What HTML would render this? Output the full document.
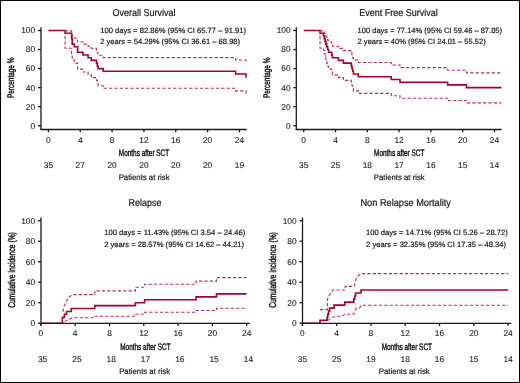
<!DOCTYPE html>
<html><head><meta charset="utf-8"><style>
html,body{margin:0;padding:0;background:#fff;}
body{width:520px;height:383px;overflow:hidden;position:relative;}
svg{position:absolute;left:0;top:0;will-change:transform;}
text{text-rendering:geometricPrecision;font-family:"Liberation Sans",sans-serif;}
</style></head><body>
<svg width="520" height="383" viewBox="0 0 520 383">
<rect x="0.5" y="0.5" width="519" height="382" fill="#fff" stroke="#000" stroke-width="1"/>
<path d="M48.40,30.50H65.10V33.22H71.60V38.66H72.20V44.10H74.30V46.82H77.60V52.26H83.00V54.98H88.10V57.70H91.30V60.42H96.50V63.14H97.30V65.86H98.10V68.58H103.20V71.30H235.60V74.02H246.10V77.34H246.20" fill="none" stroke="#a6002c" stroke-width="1.6"/>
<path d="M65.10,30.50V48.21H71.60V53.60H72.20V59.99H74.30V63.09H77.60V69.10H83.00V72.01H88.10V74.85H91.30V77.65H96.50V80.39H97.30V83.08H98.10V85.71H103.20V88.30H235.60V90.85H246.10V93.52H246.20" fill="none" stroke="#b8304f" stroke-width="1.1" stroke-dasharray="3.3 2.05"/>
<path d="M65.10,30.50V30.89H71.60V33.21H72.20V36.41H74.30V38.20H77.60V42.07H83.00V44.11H88.10V46.22H91.30V48.39H96.50V50.62H97.30V52.90H98.10V55.23H103.20V57.61H235.60V60.03H246.10V62.30H246.20" fill="none" stroke="#b8304f" stroke-width="1.1" stroke-dasharray="3.3 2.05"/>
<line x1="41.0" y1="27.2" x2="41.0" y2="130.1" stroke="#1a1a1a" stroke-width="1.3"/>
<line x1="40.4" y1="129.5" x2="246.7" y2="129.5" stroke="#1a1a1a" stroke-width="1.3"/>
<line x1="38.0" y1="125.7" x2="41.0" y2="125.7" stroke="#1a1a1a" stroke-width="1.3"/>
<text x="35.2" y="128.6" font-size="8.4" text-anchor="end" fill="#1a1a1a" stroke="#1a1a1a" stroke-width="0.1">0</text>
<line x1="38.0" y1="106.66" x2="41.0" y2="106.66" stroke="#1a1a1a" stroke-width="1.3"/>
<text x="35.2" y="109.56" font-size="8.4" text-anchor="end" fill="#1a1a1a" stroke="#1a1a1a" stroke-width="0.1">20</text>
<line x1="38.0" y1="87.62" x2="41.0" y2="87.62" stroke="#1a1a1a" stroke-width="1.3"/>
<text x="35.2" y="90.52000000000001" font-size="8.4" text-anchor="end" fill="#1a1a1a" stroke="#1a1a1a" stroke-width="0.1">40</text>
<line x1="38.0" y1="68.58000000000001" x2="41.0" y2="68.58000000000001" stroke="#1a1a1a" stroke-width="1.3"/>
<text x="35.2" y="71.48000000000002" font-size="8.4" text-anchor="end" fill="#1a1a1a" stroke="#1a1a1a" stroke-width="0.1">60</text>
<line x1="38.0" y1="49.540000000000006" x2="41.0" y2="49.540000000000006" stroke="#1a1a1a" stroke-width="1.3"/>
<text x="35.2" y="52.440000000000005" font-size="8.4" text-anchor="end" fill="#1a1a1a" stroke="#1a1a1a" stroke-width="0.1">80</text>
<line x1="38.0" y1="30.500000000000014" x2="41.0" y2="30.500000000000014" stroke="#1a1a1a" stroke-width="1.3"/>
<text x="35.2" y="33.40000000000001" font-size="8.4" text-anchor="end" fill="#1a1a1a" stroke="#1a1a1a" stroke-width="0.1">100</text>
<line x1="48.4" y1="129.5" x2="48.4" y2="132.3" stroke="#1a1a1a" stroke-width="1.3"/>
<text x="48.4" y="142.8" font-size="8.4" text-anchor="middle" fill="#1a1a1a" stroke="#1a1a1a" stroke-width="0.1">0</text>
<text x="48.4" y="167.8" font-size="8.4" text-anchor="middle" fill="#1a1a1a" stroke="#1a1a1a" stroke-width="0.1">35</text>
<line x1="80.24" y1="129.5" x2="80.24" y2="132.3" stroke="#1a1a1a" stroke-width="1.3"/>
<text x="80.24" y="142.8" font-size="8.4" text-anchor="middle" fill="#1a1a1a" stroke="#1a1a1a" stroke-width="0.1">4</text>
<text x="80.24" y="167.8" font-size="8.4" text-anchor="middle" fill="#1a1a1a" stroke="#1a1a1a" stroke-width="0.1">27</text>
<line x1="112.08" y1="129.5" x2="112.08" y2="132.3" stroke="#1a1a1a" stroke-width="1.3"/>
<text x="112.08" y="142.8" font-size="8.4" text-anchor="middle" fill="#1a1a1a" stroke="#1a1a1a" stroke-width="0.1">8</text>
<text x="112.08" y="167.8" font-size="8.4" text-anchor="middle" fill="#1a1a1a" stroke="#1a1a1a" stroke-width="0.1">20</text>
<line x1="143.92" y1="129.5" x2="143.92" y2="132.3" stroke="#1a1a1a" stroke-width="1.3"/>
<text x="143.92" y="142.8" font-size="8.4" text-anchor="middle" fill="#1a1a1a" stroke="#1a1a1a" stroke-width="0.1">12</text>
<text x="143.92" y="167.8" font-size="8.4" text-anchor="middle" fill="#1a1a1a" stroke="#1a1a1a" stroke-width="0.1">20</text>
<line x1="175.76" y1="129.5" x2="175.76" y2="132.3" stroke="#1a1a1a" stroke-width="1.3"/>
<text x="175.76" y="142.8" font-size="8.4" text-anchor="middle" fill="#1a1a1a" stroke="#1a1a1a" stroke-width="0.1">16</text>
<text x="175.76" y="167.8" font-size="8.4" text-anchor="middle" fill="#1a1a1a" stroke="#1a1a1a" stroke-width="0.1">20</text>
<line x1="207.6" y1="129.5" x2="207.6" y2="132.3" stroke="#1a1a1a" stroke-width="1.3"/>
<text x="207.6" y="142.8" font-size="8.4" text-anchor="middle" fill="#1a1a1a" stroke="#1a1a1a" stroke-width="0.1">20</text>
<text x="207.6" y="167.8" font-size="8.4" text-anchor="middle" fill="#1a1a1a" stroke="#1a1a1a" stroke-width="0.1">20</text>
<line x1="239.44" y1="129.5" x2="239.44" y2="132.3" stroke="#1a1a1a" stroke-width="1.3"/>
<text x="239.44" y="142.8" font-size="8.4" text-anchor="middle" fill="#1a1a1a" stroke="#1a1a1a" stroke-width="0.1">24</text>
<text x="239.44" y="167.8" font-size="8.4" text-anchor="middle" fill="#1a1a1a" stroke="#1a1a1a" stroke-width="0.1">19</text>
<text transform="translate(144.0,15.5) scale(0.9,1)" font-size="10.0" text-anchor="middle" fill="#1a1a1a" stroke="#1a1a1a" stroke-width="0.2">Overall Survival</text>
<text x="100.2" y="33.2" font-size="7.6" text-anchor="start" fill="#1a1a1a" stroke="#1a1a1a" stroke-width="0.2">100 days = 82.86% (95% CI 65.77 – 91.91)</text>
<text x="100.2" y="44.4" font-size="7.6" text-anchor="start" fill="#1a1a1a" stroke="#1a1a1a" stroke-width="0.2">2 years = 54.29% (95% CI 36.61 – 68.98)</text>
<text transform="translate(144.0,155.9) scale(0.685,1)" font-size="9.4" text-anchor="middle" fill="#111" stroke="#111" stroke-width="0.4">Months after SCT</text>
<text transform="translate(144.1,180.3) scale(0.97,1)" font-size="8" text-anchor="middle" fill="#1a1a1a" stroke="#1a1a1a" stroke-width="0.2">Patients at risk</text>
<text transform="translate(14.2,77.8) rotate(-90) scale(0.672,1)" font-size="9.6" text-anchor="middle" fill="#111" stroke="#111" stroke-width="0.4">Percentage %</text>
<path d="M303.70,30.50H320.00V33.22H323.50V35.94H324.30V38.66H325.10V41.38H325.90V44.10H326.70V46.82H327.60V49.54H328.60V52.26H331.70V54.98H332.40V57.70H338.40V60.42H343.40V63.14H351.30V65.86H352.00V68.58H352.70V71.30H353.40V74.02H358.30V76.74H391.30V79.46H400.00V82.18H447.60V84.90H466.40V87.62H501.40" fill="none" stroke="#a6002c" stroke-width="1.6"/>
<path d="M320.00,30.50V48.21H323.50V50.46H324.30V53.60H325.10V56.82H325.90V59.99H326.70V63.09H327.60V66.13H328.60V69.10H331.70V72.01H332.40V74.85H338.40V77.65H343.40V80.39H351.30V83.08H352.00V85.71H352.70V88.30H353.40V90.85H358.30V93.34H391.30V95.79H400.00V98.19H447.60V100.54H466.40V102.84H501.40" fill="none" stroke="#b8304f" stroke-width="1.1" stroke-dasharray="3.3 2.05"/>
<path d="M320.00,30.50V30.89H323.50V31.89H324.30V33.21H325.10V34.74H325.90V36.41H326.70V38.20H327.60V40.09H328.60V42.07H331.70V44.11H332.40V46.22H338.40V48.39H343.40V50.62H351.30V52.90H352.00V55.23H352.70V57.61H353.40V60.03H358.30V62.51H391.30V65.02H400.00V67.58H447.60V70.19H466.40V72.85H501.40" fill="none" stroke="#b8304f" stroke-width="1.1" stroke-dasharray="3.3 2.05"/>
<line x1="296.3" y1="27.2" x2="296.3" y2="130.1" stroke="#1a1a1a" stroke-width="1.3"/>
<line x1="295.7" y1="129.5" x2="501.7" y2="129.5" stroke="#1a1a1a" stroke-width="1.3"/>
<line x1="293.3" y1="125.7" x2="296.3" y2="125.7" stroke="#1a1a1a" stroke-width="1.3"/>
<text x="290.7" y="128.6" font-size="8.4" text-anchor="end" fill="#1a1a1a" stroke="#1a1a1a" stroke-width="0.1">0</text>
<line x1="293.3" y1="106.66" x2="296.3" y2="106.66" stroke="#1a1a1a" stroke-width="1.3"/>
<text x="290.7" y="109.56" font-size="8.4" text-anchor="end" fill="#1a1a1a" stroke="#1a1a1a" stroke-width="0.1">20</text>
<line x1="293.3" y1="87.62" x2="296.3" y2="87.62" stroke="#1a1a1a" stroke-width="1.3"/>
<text x="290.7" y="90.52000000000001" font-size="8.4" text-anchor="end" fill="#1a1a1a" stroke="#1a1a1a" stroke-width="0.1">40</text>
<line x1="293.3" y1="68.58000000000001" x2="296.3" y2="68.58000000000001" stroke="#1a1a1a" stroke-width="1.3"/>
<text x="290.7" y="71.48000000000002" font-size="8.4" text-anchor="end" fill="#1a1a1a" stroke="#1a1a1a" stroke-width="0.1">60</text>
<line x1="293.3" y1="49.540000000000006" x2="296.3" y2="49.540000000000006" stroke="#1a1a1a" stroke-width="1.3"/>
<text x="290.7" y="52.440000000000005" font-size="8.4" text-anchor="end" fill="#1a1a1a" stroke="#1a1a1a" stroke-width="0.1">80</text>
<line x1="293.3" y1="30.500000000000014" x2="296.3" y2="30.500000000000014" stroke="#1a1a1a" stroke-width="1.3"/>
<text x="290.7" y="33.40000000000001" font-size="8.4" text-anchor="end" fill="#1a1a1a" stroke="#1a1a1a" stroke-width="0.1">100</text>
<line x1="303.7" y1="129.5" x2="303.7" y2="132.3" stroke="#1a1a1a" stroke-width="1.3"/>
<text x="303.7" y="142.8" font-size="8.4" text-anchor="middle" fill="#1a1a1a" stroke="#1a1a1a" stroke-width="0.1">0</text>
<text x="303.7" y="167.8" font-size="8.4" text-anchor="middle" fill="#1a1a1a" stroke="#1a1a1a" stroke-width="0.1">35</text>
<line x1="335.5" y1="129.5" x2="335.5" y2="132.3" stroke="#1a1a1a" stroke-width="1.3"/>
<text x="335.5" y="142.8" font-size="8.4" text-anchor="middle" fill="#1a1a1a" stroke="#1a1a1a" stroke-width="0.1">4</text>
<text x="335.5" y="167.8" font-size="8.4" text-anchor="middle" fill="#1a1a1a" stroke="#1a1a1a" stroke-width="0.1">25</text>
<line x1="367.3" y1="129.5" x2="367.3" y2="132.3" stroke="#1a1a1a" stroke-width="1.3"/>
<text x="367.3" y="142.8" font-size="8.4" text-anchor="middle" fill="#1a1a1a" stroke="#1a1a1a" stroke-width="0.1">8</text>
<text x="367.3" y="167.8" font-size="8.4" text-anchor="middle" fill="#1a1a1a" stroke="#1a1a1a" stroke-width="0.1">18</text>
<line x1="399.1" y1="129.5" x2="399.1" y2="132.3" stroke="#1a1a1a" stroke-width="1.3"/>
<text x="399.1" y="142.8" font-size="8.4" text-anchor="middle" fill="#1a1a1a" stroke="#1a1a1a" stroke-width="0.1">12</text>
<text x="399.1" y="167.8" font-size="8.4" text-anchor="middle" fill="#1a1a1a" stroke="#1a1a1a" stroke-width="0.1">17</text>
<line x1="430.9" y1="129.5" x2="430.9" y2="132.3" stroke="#1a1a1a" stroke-width="1.3"/>
<text x="430.9" y="142.8" font-size="8.4" text-anchor="middle" fill="#1a1a1a" stroke="#1a1a1a" stroke-width="0.1">16</text>
<text x="430.9" y="167.8" font-size="8.4" text-anchor="middle" fill="#1a1a1a" stroke="#1a1a1a" stroke-width="0.1">16</text>
<line x1="462.7" y1="129.5" x2="462.7" y2="132.3" stroke="#1a1a1a" stroke-width="1.3"/>
<text x="462.7" y="142.8" font-size="8.4" text-anchor="middle" fill="#1a1a1a" stroke="#1a1a1a" stroke-width="0.1">20</text>
<text x="462.7" y="167.8" font-size="8.4" text-anchor="middle" fill="#1a1a1a" stroke="#1a1a1a" stroke-width="0.1">15</text>
<line x1="494.5" y1="129.5" x2="494.5" y2="132.3" stroke="#1a1a1a" stroke-width="1.3"/>
<text x="494.5" y="142.8" font-size="8.4" text-anchor="middle" fill="#1a1a1a" stroke="#1a1a1a" stroke-width="0.1">24</text>
<text x="494.5" y="167.8" font-size="8.4" text-anchor="middle" fill="#1a1a1a" stroke="#1a1a1a" stroke-width="0.1">14</text>
<text transform="translate(398.6,15.5) scale(0.9,1)" font-size="10.0" text-anchor="middle" fill="#1a1a1a" stroke="#1a1a1a" stroke-width="0.2">Event Free Survival</text>
<text transform="translate(357.6,33.2) scale(0.99,1)" font-size="7.6" text-anchor="start" fill="#1a1a1a" stroke="#1a1a1a" stroke-width="0.2">100 days = 77.14% (95% CI 59.46 – 87.85)</text>
<text transform="translate(357.6,44.4) scale(0.99,1)" font-size="7.6" text-anchor="start" fill="#1a1a1a" stroke="#1a1a1a" stroke-width="0.2">2 years = 40% (95% CI 24.01 – 55.52)</text>
<text transform="translate(399.2,155.9) scale(0.685,1)" font-size="9.4" text-anchor="middle" fill="#111" stroke="#111" stroke-width="0.4">Months after SCT</text>
<text transform="translate(399.3,180.3) scale(0.97,1)" font-size="8" text-anchor="middle" fill="#1a1a1a" stroke="#1a1a1a" stroke-width="0.2">Patients at risk</text>
<text transform="translate(270.2,77.8) rotate(-90) scale(0.672,1)" font-size="9.6" text-anchor="middle" fill="#111" stroke="#111" stroke-width="0.4">Percentage %</text>
<path d="M40.90,323.20H62.40V317.35H64.40V314.42H66.50V311.48H71.20V308.55H94.80V305.63H135.40V302.70H144.60V299.77H196.10V296.85H216.50V293.92H246.50" fill="none" stroke="#a6002c" stroke-width="1.6"/>
<path d="M64.6,321.6L66.5,320.4L69.1,319.2L71.4,318.3L73.6,317.8H94.8V316.3H135.4V314.3H144.6V312.3H196.1V310.5H216.5V308.2H246.5" fill="none" stroke="#b8304f" stroke-width="1.1" stroke-dasharray="3.3 2.05"/>
<path d="M62.8,311.8L64.4,305.5L66.2,301.5L67.8,298.3L71.2,295.4L72.2,294.6H94.8V290.9H135.4V287.2H144.6V284.2H196.1V281.1H216.5V277.6H246.5" fill="none" stroke="#b8304f" stroke-width="1.1" stroke-dasharray="3.3 2.05"/>
<line x1="41.0" y1="217.5" x2="41.0" y2="325.6" stroke="#1a1a1a" stroke-width="1.3"/>
<line x1="40.4" y1="323.3" x2="249.8" y2="323.3" stroke="#1a1a1a" stroke-width="1.3"/>
<line x1="38.0" y1="323.2" x2="41.0" y2="323.2" stroke="#1a1a1a" stroke-width="1.3"/>
<text x="35.2" y="326.09999999999997" font-size="8.4" text-anchor="end" fill="#1a1a1a" stroke="#1a1a1a" stroke-width="0.1">0</text>
<line x1="38.0" y1="302.7" x2="41.0" y2="302.7" stroke="#1a1a1a" stroke-width="1.3"/>
<text x="35.2" y="305.59999999999997" font-size="8.4" text-anchor="end" fill="#1a1a1a" stroke="#1a1a1a" stroke-width="0.1">20</text>
<line x1="38.0" y1="282.2" x2="41.0" y2="282.2" stroke="#1a1a1a" stroke-width="1.3"/>
<text x="35.2" y="285.09999999999997" font-size="8.4" text-anchor="end" fill="#1a1a1a" stroke="#1a1a1a" stroke-width="0.1">40</text>
<line x1="38.0" y1="261.7" x2="41.0" y2="261.7" stroke="#1a1a1a" stroke-width="1.3"/>
<text x="35.2" y="264.59999999999997" font-size="8.4" text-anchor="end" fill="#1a1a1a" stroke="#1a1a1a" stroke-width="0.1">60</text>
<line x1="38.0" y1="241.2" x2="41.0" y2="241.2" stroke="#1a1a1a" stroke-width="1.3"/>
<text x="35.2" y="244.1" font-size="8.4" text-anchor="end" fill="#1a1a1a" stroke="#1a1a1a" stroke-width="0.1">80</text>
<line x1="38.0" y1="220.7" x2="41.0" y2="220.7" stroke="#1a1a1a" stroke-width="1.3"/>
<text x="35.2" y="223.6" font-size="8.4" text-anchor="end" fill="#1a1a1a" stroke="#1a1a1a" stroke-width="0.1">100</text>
<line x1="40.9" y1="323.3" x2="40.9" y2="326.1" stroke="#1a1a1a" stroke-width="1.3"/>
<text x="40.9" y="336.4" font-size="8.4" text-anchor="middle" fill="#1a1a1a" stroke="#1a1a1a" stroke-width="0.1">0</text>
<text x="42.6" y="362.2" font-size="8.4" text-anchor="middle" fill="#1a1a1a" stroke="#1a1a1a" stroke-width="0.1">35</text>
<line x1="75.19999999999999" y1="323.3" x2="75.19999999999999" y2="326.1" stroke="#1a1a1a" stroke-width="1.3"/>
<text x="75.19999999999999" y="336.4" font-size="8.4" text-anchor="middle" fill="#1a1a1a" stroke="#1a1a1a" stroke-width="0.1">4</text>
<text x="76.89999999999999" y="362.2" font-size="8.4" text-anchor="middle" fill="#1a1a1a" stroke="#1a1a1a" stroke-width="0.1">25</text>
<line x1="109.5" y1="323.3" x2="109.5" y2="326.1" stroke="#1a1a1a" stroke-width="1.3"/>
<text x="109.5" y="336.4" font-size="8.4" text-anchor="middle" fill="#1a1a1a" stroke="#1a1a1a" stroke-width="0.1">8</text>
<text x="111.2" y="362.2" font-size="8.4" text-anchor="middle" fill="#1a1a1a" stroke="#1a1a1a" stroke-width="0.1">18</text>
<line x1="143.79999999999998" y1="323.3" x2="143.79999999999998" y2="326.1" stroke="#1a1a1a" stroke-width="1.3"/>
<text x="143.79999999999998" y="336.4" font-size="8.4" text-anchor="middle" fill="#1a1a1a" stroke="#1a1a1a" stroke-width="0.1">12</text>
<text x="145.49999999999997" y="362.2" font-size="8.4" text-anchor="middle" fill="#1a1a1a" stroke="#1a1a1a" stroke-width="0.1">17</text>
<line x1="178.1" y1="323.3" x2="178.1" y2="326.1" stroke="#1a1a1a" stroke-width="1.3"/>
<text x="178.1" y="336.4" font-size="8.4" text-anchor="middle" fill="#1a1a1a" stroke="#1a1a1a" stroke-width="0.1">16</text>
<text x="179.79999999999998" y="362.2" font-size="8.4" text-anchor="middle" fill="#1a1a1a" stroke="#1a1a1a" stroke-width="0.1">16</text>
<line x1="212.4" y1="323.3" x2="212.4" y2="326.1" stroke="#1a1a1a" stroke-width="1.3"/>
<text x="212.4" y="336.4" font-size="8.4" text-anchor="middle" fill="#1a1a1a" stroke="#1a1a1a" stroke-width="0.1">20</text>
<text x="214.1" y="362.2" font-size="8.4" text-anchor="middle" fill="#1a1a1a" stroke="#1a1a1a" stroke-width="0.1">15</text>
<line x1="246.7" y1="323.3" x2="246.7" y2="326.1" stroke="#1a1a1a" stroke-width="1.3"/>
<text x="246.7" y="336.4" font-size="8.4" text-anchor="middle" fill="#1a1a1a" stroke="#1a1a1a" stroke-width="0.1">24</text>
<text x="248.39999999999998" y="362.2" font-size="8.4" text-anchor="middle" fill="#1a1a1a" stroke="#1a1a1a" stroke-width="0.1">14</text>
<text transform="translate(145.0,206.0) scale(0.9,1)" font-size="10.0" text-anchor="middle" fill="#1a1a1a" stroke="#1a1a1a" stroke-width="0.2">Relapse</text>
<text x="104.2" y="235.3" font-size="7.6" text-anchor="start" fill="#1a1a1a" stroke="#1a1a1a" stroke-width="0.2">100 days = 11.43% (95% CI 3.54 – 24.46)</text>
<text x="104.2" y="246.5" font-size="7.6" text-anchor="start" fill="#1a1a1a" stroke="#1a1a1a" stroke-width="0.2">2 years = 28.57% (95% CI 14.62 – 44.21)</text>
<text transform="translate(145.4,349.7) scale(0.685,1)" font-size="9.4" text-anchor="middle" fill="#111" stroke="#111" stroke-width="0.4">Months after SCT</text>
<text transform="translate(144.6,373.9) scale(0.97,1)" font-size="8" text-anchor="middle" fill="#1a1a1a" stroke="#1a1a1a" stroke-width="0.2">Patients at risk</text>
<text transform="translate(14.5,270.0) rotate(-90) scale(0.68,1)" font-size="9.8" text-anchor="middle" fill="#111" stroke="#111" stroke-width="0.4">Cumulative incidence (%)</text>
<path d="M302.40,323.20H320.00V320.19H327.20V317.17H327.80V314.16H328.60V311.15H329.60V308.12H334.10V305.11H344.80V302.10H353.80V299.08H354.70V296.07H355.60V293.05H361.00V290.04H508.10" fill="none" stroke="#a6002c" stroke-width="1.6"/>
<path d="M327.6,320.6L332.2,317.8L335.5,316.2H342.4L344.6,314.2H353.9L355.6,309L357,308H359.6L361.2,305.3H508.1" fill="none" stroke="#b8304f" stroke-width="1.1" stroke-dasharray="3.3 2.05"/>
<path d="M320,309.6H327.4V300L328.4,296.3L331,293L333,290H345.2V286.4H354.2L355.2,283L356,279L357.5,276.4L361,273.6H508.1" fill="none" stroke="#b8304f" stroke-width="1.1" stroke-dasharray="3.3 2.05"/>
<line x1="302.5" y1="217.5" x2="302.5" y2="325.6" stroke="#1a1a1a" stroke-width="1.3"/>
<line x1="301.9" y1="323.3" x2="511.3" y2="323.3" stroke="#1a1a1a" stroke-width="1.3"/>
<line x1="299.5" y1="323.2" x2="302.5" y2="323.2" stroke="#1a1a1a" stroke-width="1.3"/>
<text x="296.7" y="326.09999999999997" font-size="8.4" text-anchor="end" fill="#1a1a1a" stroke="#1a1a1a" stroke-width="0.1">0</text>
<line x1="299.5" y1="302.7" x2="302.5" y2="302.7" stroke="#1a1a1a" stroke-width="1.3"/>
<text x="296.7" y="305.59999999999997" font-size="8.4" text-anchor="end" fill="#1a1a1a" stroke="#1a1a1a" stroke-width="0.1">20</text>
<line x1="299.5" y1="282.2" x2="302.5" y2="282.2" stroke="#1a1a1a" stroke-width="1.3"/>
<text x="296.7" y="285.09999999999997" font-size="8.4" text-anchor="end" fill="#1a1a1a" stroke="#1a1a1a" stroke-width="0.1">40</text>
<line x1="299.5" y1="261.7" x2="302.5" y2="261.7" stroke="#1a1a1a" stroke-width="1.3"/>
<text x="296.7" y="264.59999999999997" font-size="8.4" text-anchor="end" fill="#1a1a1a" stroke="#1a1a1a" stroke-width="0.1">60</text>
<line x1="299.5" y1="241.2" x2="302.5" y2="241.2" stroke="#1a1a1a" stroke-width="1.3"/>
<text x="296.7" y="244.1" font-size="8.4" text-anchor="end" fill="#1a1a1a" stroke="#1a1a1a" stroke-width="0.1">80</text>
<line x1="299.5" y1="220.7" x2="302.5" y2="220.7" stroke="#1a1a1a" stroke-width="1.3"/>
<text x="296.7" y="223.6" font-size="8.4" text-anchor="end" fill="#1a1a1a" stroke="#1a1a1a" stroke-width="0.1">100</text>
<line x1="302.4" y1="323.3" x2="302.4" y2="326.1" stroke="#1a1a1a" stroke-width="1.3"/>
<text x="302.4" y="336.4" font-size="8.4" text-anchor="middle" fill="#1a1a1a" stroke="#1a1a1a" stroke-width="0.1">0</text>
<text x="302.4" y="362.2" font-size="8.4" text-anchor="middle" fill="#1a1a1a" stroke="#1a1a1a" stroke-width="0.1">35</text>
<line x1="336.67999999999995" y1="323.3" x2="336.67999999999995" y2="326.1" stroke="#1a1a1a" stroke-width="1.3"/>
<text x="336.67999999999995" y="336.4" font-size="8.4" text-anchor="middle" fill="#1a1a1a" stroke="#1a1a1a" stroke-width="0.1">4</text>
<text x="336.67999999999995" y="362.2" font-size="8.4" text-anchor="middle" fill="#1a1a1a" stroke="#1a1a1a" stroke-width="0.1">25</text>
<line x1="370.96" y1="323.3" x2="370.96" y2="326.1" stroke="#1a1a1a" stroke-width="1.3"/>
<text x="370.96" y="336.4" font-size="8.4" text-anchor="middle" fill="#1a1a1a" stroke="#1a1a1a" stroke-width="0.1">8</text>
<text x="370.96" y="362.2" font-size="8.4" text-anchor="middle" fill="#1a1a1a" stroke="#1a1a1a" stroke-width="0.1">19</text>
<line x1="405.24" y1="323.3" x2="405.24" y2="326.1" stroke="#1a1a1a" stroke-width="1.3"/>
<text x="405.24" y="336.4" font-size="8.4" text-anchor="middle" fill="#1a1a1a" stroke="#1a1a1a" stroke-width="0.1">12</text>
<text x="405.24" y="362.2" font-size="8.4" text-anchor="middle" fill="#1a1a1a" stroke="#1a1a1a" stroke-width="0.1">18</text>
<line x1="439.52" y1="323.3" x2="439.52" y2="326.1" stroke="#1a1a1a" stroke-width="1.3"/>
<text x="439.52" y="336.4" font-size="8.4" text-anchor="middle" fill="#1a1a1a" stroke="#1a1a1a" stroke-width="0.1">16</text>
<text x="439.52" y="362.2" font-size="8.4" text-anchor="middle" fill="#1a1a1a" stroke="#1a1a1a" stroke-width="0.1">16</text>
<line x1="473.79999999999995" y1="323.3" x2="473.79999999999995" y2="326.1" stroke="#1a1a1a" stroke-width="1.3"/>
<text x="473.79999999999995" y="336.4" font-size="8.4" text-anchor="middle" fill="#1a1a1a" stroke="#1a1a1a" stroke-width="0.1">20</text>
<text x="473.79999999999995" y="362.2" font-size="8.4" text-anchor="middle" fill="#1a1a1a" stroke="#1a1a1a" stroke-width="0.1">15</text>
<line x1="508.08" y1="323.3" x2="508.08" y2="326.1" stroke="#1a1a1a" stroke-width="1.3"/>
<text x="508.08" y="336.4" font-size="8.4" text-anchor="middle" fill="#1a1a1a" stroke="#1a1a1a" stroke-width="0.1">24</text>
<text x="508.08" y="362.2" font-size="8.4" text-anchor="middle" fill="#1a1a1a" stroke="#1a1a1a" stroke-width="0.1">14</text>
<text transform="translate(405.7,206.0) scale(0.92,1)" font-size="10.0" text-anchor="middle" fill="#1a1a1a" stroke="#1a1a1a" stroke-width="0.2">Non Relapse Mortality</text>
<text x="366.1" y="235.3" font-size="7.6" text-anchor="start" fill="#1a1a1a" stroke="#1a1a1a" stroke-width="0.2">100 days = 14.71% (95% CI 5.26 – 28.72)</text>
<text x="366.1" y="246.5" font-size="7.6" text-anchor="start" fill="#1a1a1a" stroke="#1a1a1a" stroke-width="0.2">2 years = 32.35% (95% CI 17.35 – 48.34)</text>
<text transform="translate(406.8,349.7) scale(0.685,1)" font-size="9.4" text-anchor="middle" fill="#111" stroke="#111" stroke-width="0.4">Months after SCT</text>
<text transform="translate(404.3,373.9) scale(0.97,1)" font-size="8" text-anchor="middle" fill="#1a1a1a" stroke="#1a1a1a" stroke-width="0.2">Patients at risk</text>
<text transform="translate(276.1,270.0) rotate(-90) scale(0.68,1)" font-size="9.8" text-anchor="middle" fill="#111" stroke="#111" stroke-width="0.4">Cumulative incidence (%)</text>
</svg>
</body></html>
